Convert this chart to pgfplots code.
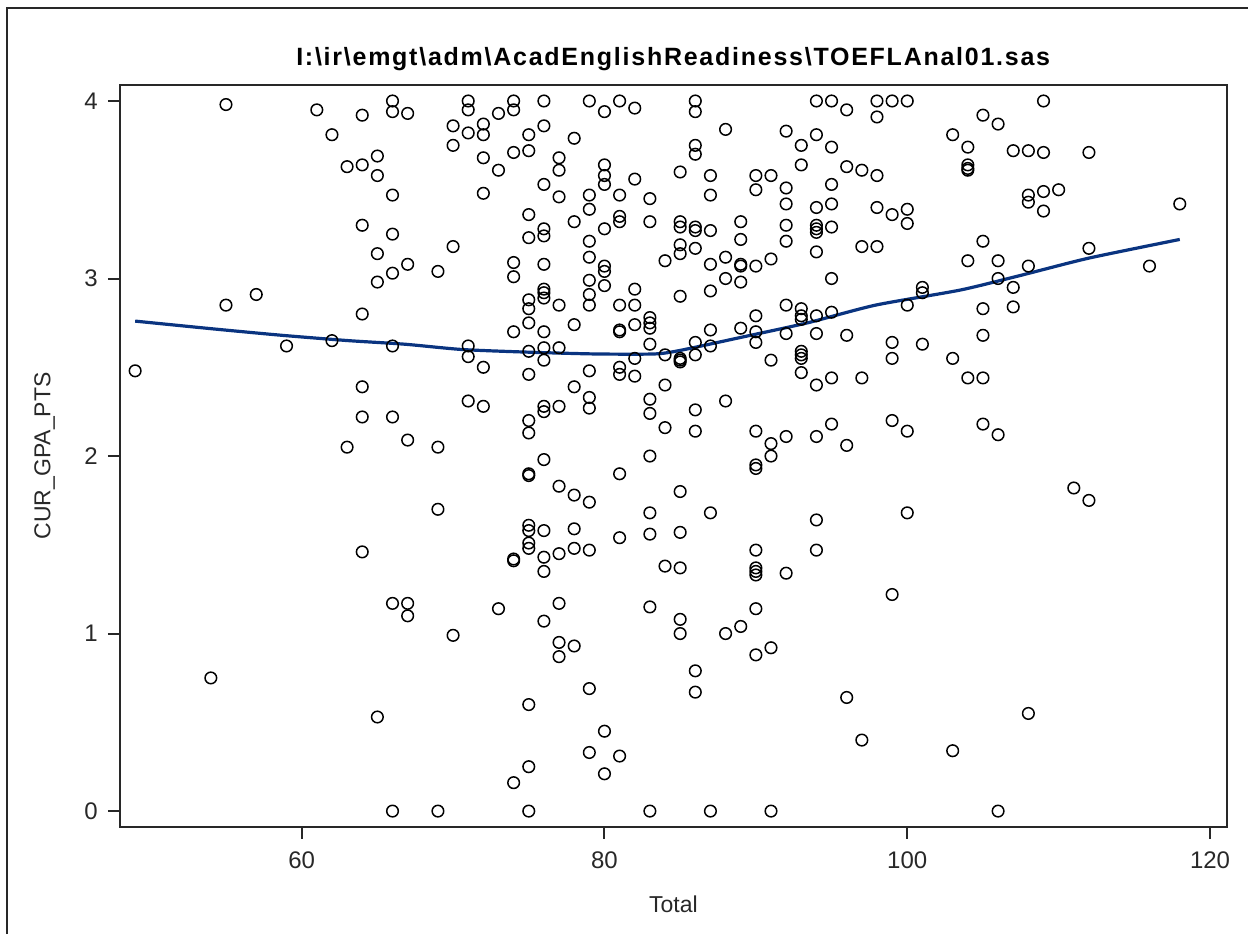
\documentclass[border=0pt]{standalone}
\usepackage{fontspec}
\setmainfont{Liberation Sans}
\usepackage{pgfplots}
\pgfplotsset{compat=1.18}
\definecolor{loess}{RGB}{10,52,128}
\definecolor{axgray}{RGB}{40,40,40}

\pgfplotstableread{
x y
49 2.48
54 0.75
55 3.98
55 2.85
57 2.91
59 2.62
61 3.95
62 3.81
62 2.65
63 3.63
63 2.05
64 3.92
64 3.64
64 3.30
64 2.80
64 2.39
64 2.22
64 1.46
65 3.69
65 3.58
65 3.14
65 2.98
65 0.53
66 4.00
66 3.94
66 3.47
66 3.25
66 3.03
66 2.62
66 2.22
66 1.17
66 0.00
67 3.93
67 3.08
67 2.09
67 1.17
67 1.10
69 3.04
69 2.05
69 1.70
69 0.00
70 3.86
70 3.75
70 3.18
70 0.99
71 4.00
71 3.95
71 3.82
71 2.62
71 2.56
71 2.31
72 3.87
72 3.81
72 3.68
72 3.48
72 2.50
72 2.28
73 3.93
73 3.61
73 1.14
74 4.00
74 3.95
74 3.71
74 3.09
74 3.01
74 2.70
74 1.42
74 1.41
74 0.16
75 3.81
75 3.72
75 3.36
75 3.23
75 2.88
75 2.83
75 2.75
75 2.59
75 2.46
75 2.20
75 2.13
75 1.89
75 1.90
75 1.61
75 1.58
75 1.51
75 1.48
75 0.60
75 0.25
75 0.00
76 4.00
76 3.86
76 3.53
76 3.28
76 3.24
76 3.08
76 2.94
76 2.92
76 2.89
76 2.70
76 2.61
76 2.54
76 2.28
76 2.25
76 1.98
76 1.58
76 1.43
76 1.35
76 1.07
77 3.68
77 3.61
77 3.46
77 2.85
77 2.61
77 2.28
77 1.83
77 1.45
77 1.17
77 0.95
77 0.87
78 3.79
78 3.32
78 2.74
78 2.39
78 1.78
78 1.59
78 1.48
78 0.93
79 4.00
79 3.47
79 3.39
79 3.21
79 3.12
79 2.99
79 2.91
79 2.85
79 2.48
79 2.33
79 2.27
79 1.74
79 1.47
79 0.69
79 0.33
80 3.94
80 3.64
80 3.58
80 3.53
80 3.28
80 3.07
80 3.04
80 2.96
80 0.45
80 0.21
81 4.00
81 3.47
81 3.35
81 3.32
81 2.85
81 2.71
81 2.70
81 2.50
81 2.46
81 1.90
81 1.54
81 0.31
82 3.96
82 3.56
82 2.94
82 2.85
82 2.74
82 2.55
82 2.45
83 3.45
83 3.32
83 2.78
83 2.75
83 2.72
83 2.63
83 2.32
83 2.24
83 2.00
83 1.68
83 1.56
83 1.15
83 0.00
84 3.10
84 2.57
84 2.40
84 2.16
84 1.38
85 3.60
85 3.32
85 3.29
85 3.19
85 3.14
85 2.90
85 2.54
85 2.53
85 2.55
85 1.80
85 1.57
85 1.37
85 1.08
85 1.00
86 4.00
86 3.94
86 3.75
86 3.70
86 3.29
86 3.27
86 3.17
86 2.64
86 2.57
86 2.26
86 2.14
86 0.79
86 0.67
87 3.58
87 3.47
87 3.27
87 3.08
87 2.93
87 2.71
87 2.62
87 1.68
87 0.00
88 3.84
88 3.12
88 3.00
88 2.31
88 1.00
89 3.32
89 3.22
89 3.08
89 3.07
89 2.98
89 2.72
89 1.04
90 3.58
90 3.50
90 3.07
90 2.79
90 2.70
90 2.64
90 2.14
90 1.95
90 1.93
90 1.47
90 1.37
90 1.35
90 1.33
90 1.14
90 0.88
91 3.58
91 3.11
91 2.54
91 2.07
91 2.00
91 0.92
91 0.00
92 3.83
92 3.51
92 3.42
92 3.30
92 3.21
92 2.85
92 2.69
92 2.11
92 1.34
93 3.75
93 3.64
93 2.83
93 2.79
93 2.77
93 2.59
93 2.57
93 2.55
93 2.47
94 4.00
94 3.81
94 3.40
94 3.30
94 3.28
94 3.26
94 3.15
94 2.79
94 2.69
94 2.40
94 2.11
94 1.64
94 1.47
95 4.00
95 3.74
95 3.53
95 3.42
95 3.29
95 3.00
95 2.81
95 2.44
95 2.18
96 3.95
96 3.63
96 2.68
96 2.06
96 0.64
97 3.61
97 3.18
97 2.44
97 0.40
98 4.00
98 3.91
98 3.58
98 3.40
98 3.18
99 4.00
99 3.36
99 2.64
99 2.55
99 2.20
99 1.22
100 4.00
100 3.39
100 3.31
100 2.85
100 2.14
100 1.68
101 2.95
101 2.92
101 2.63
103 3.81
103 2.55
103 0.34
104 3.74
104 3.64
104 3.62
104 3.61
104 3.10
104 2.44
105 3.92
105 3.21
105 2.83
105 2.68
105 2.44
105 2.18
106 3.87
106 3.10
106 3.00
106 2.12
106 0.00
107 3.72
107 2.95
107 2.84
108 3.72
108 3.47
108 3.43
108 3.07
108 0.55
109 4.00
109 3.71
109 3.49
109 3.38
110 3.50
111 1.82
112 3.71
112 3.17
112 1.75
116 3.07
118 3.42
}\gpadata

\begin{document}
\begin{tikzpicture}[x=1pt,y=1pt]
\path[use as bounding box] (0,0) rectangle (624,467);
% outer frame (cut at right and bottom)
\draw[line width=1pt, axgray] (3.5,0) -- (3.5,463) -- (624,463);
\node[anchor=base, font=\fontsize{12.5}{14}\selectfont\bfseries\addfontfeatures{LetterSpace=7}]
  at (336.6,434.2) {I:\textbackslash ir\textbackslash emgt\textbackslash adm\textbackslash AcadEnglishReadiness\textbackslash TOEFLAnal01.sas};
\begin{axis}[
  at={(60pt,53.65pt)}, anchor=south west,
  scale only axis, width=553.35pt, height=370.85pt,
  xmin=48, xmax=121.1, ymin=-0.088, ymax=4.09,
  xtick={60,80,100,120}, ytick={0,1,2,3,4},
  tick align=outside, major tick length=6pt,
  xtick pos=bottom, ytick pos=left,
  axis line style={line width=1pt, axgray},
  tick style={line width=1pt, axgray},
  ticklabel style={font=\fontsize{12}{14}\selectfont, text=axgray},
  /pgf/number format/assume math mode=true,
  xticklabel style={inner sep=0pt, anchor=north, yshift=-6.5pt},
  yticklabel style={inner sep=0pt, anchor=east, xshift=-5pt},
  xlabel={Total},
  ylabel={CUR\_GPA\_PTS},
  label style={font=\fontsize{11.5}{14}\selectfont, text=axgray},
  xlabel style={at={(axis description cs:0.5,-0.115)}, anchor=base},
  ylabel style={at={(axis description cs:-0.063,0.5)}, anchor=base},
]
\addplot[only marks, mark=o, mark size=2.9pt, mark options={line width=0.75pt, black}] table[x=x,y=y] {\gpadata};
\addplot[loess, line width=1.6pt, smooth, tension=0.4] coordinates {
(49.0,2.76) (54.3,2.715) (58.7,2.68) (63.1,2.65) (66.8,2.63) (70.6,2.60) (75.0,2.585)
(79.4,2.575) (83.3,2.575) (85.0,2.595) (89.1,2.67) (93.4,2.75) (97.9,2.85)
(103.5,2.935) (107.6,3.02) (112.0,3.115) (118.0,3.22)};
\end{axis}
\end{tikzpicture}
\end{document}
